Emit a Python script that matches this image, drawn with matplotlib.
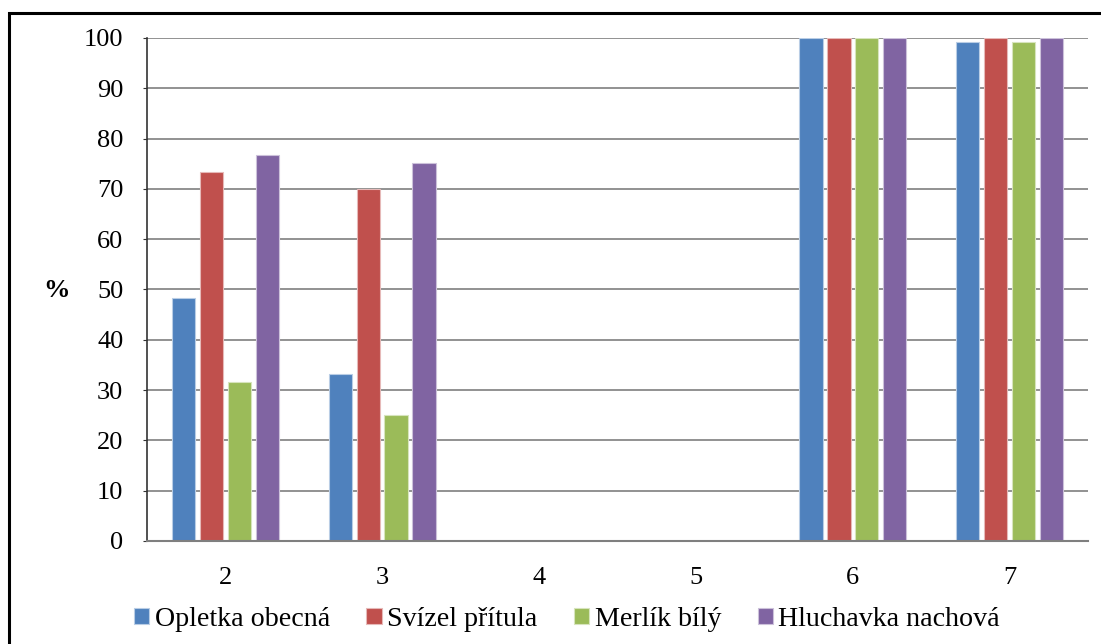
import numpy as np
import matplotlib.pyplot as plt
from matplotlib.patches import Rectangle

plt.rcParams['font.family'] = 'serif'
plt.rcParams['font.serif'] = ['Liberation Serif', 'Times New Roman', 'DejaVu Serif']

categories = ['2', '3', '4', '5', '6', '7']
series = ['Opletka obecná', 'Svízel přítula', 'Merlík bílý', 'Hluchavka nachová']
opletka = [48.3, 33.2, 0, 0, 100, 99.2]
svizel = [73.4, 70.0, 0, 0, 100, 100]
merlik = [31.6, 25.0, 0, 0, 100, 99.2]
hluchavka = [76.7, 75.1, 0, 0, 100, 100]
values = [opletka, svizel, merlik, hluchavka]

colors = ['#4F81BD', '#C0504D', '#9BBB59', '#8064A2']
edges = ['#B9CDE5', '#E6B9B8', '#D7E4BD', '#CCC1DA']

fig = plt.figure(figsize=(11.01, 6.44), dpi=100)
ax = fig.add_axes([0.1335, 0.160, 0.8547, 0.781])

x = np.arange(len(categories))
step = 0.178
for i, (vals, c, e) in enumerate(zip(values, colors, edges)):
    ax.bar(x + (i - 1.5) * step, vals, width=0.15, color=c, edgecolor=e,
           linewidth=0.8, label=series[i], zorder=2)

ax.set_xlim(-0.5, len(categories) - 0.5)
ax.set_ylim(0, 100)
ax.set_yticks(np.arange(0, 101, 10))
ax.set_xticks(x)
ax.set_xticklabels(categories)
ax.yaxis.grid(True, color='#7F7F7F', linewidth=1.2, zorder=0)
ax.set_axisbelow(True)

ax.tick_params(axis='y', labelsize=19, length=3, pad=14, color='#333333')
ax.tick_params(axis='x', labelsize=19, length=0, pad=19)
for side in ['top', 'right']:
    ax.spines[side].set_visible(False)
ax.spines['left'].set_color('#333333')
ax.spines['left'].set_linewidth(1.2)
ax.spines['bottom'].set_color('#7F7F7F')
ax.spines['bottom'].set_linewidth(1.5)

fig.text(0.051, 0.549, '%', fontsize=19, fontweight='bold', ha='center', va='center')

fig.legend(loc='center', bbox_to_anchor=(0.515, 0.038), ncol=4, frameon=False,
           fontsize=20.2, handlelength=0.54, handleheight=0.5, handletextpad=0.2,
           columnspacing=1.3)

# outer frame, cut off on the right and bottom
fig.patches.append(Rectangle((9 / 1101, -0.2), 1.5, 1.2 - 13 / 644,
                             transform=fig.transFigure, fill=False,
                             edgecolor='black', linewidth=2.2))

fig.savefig('out.png', dpi=100)
